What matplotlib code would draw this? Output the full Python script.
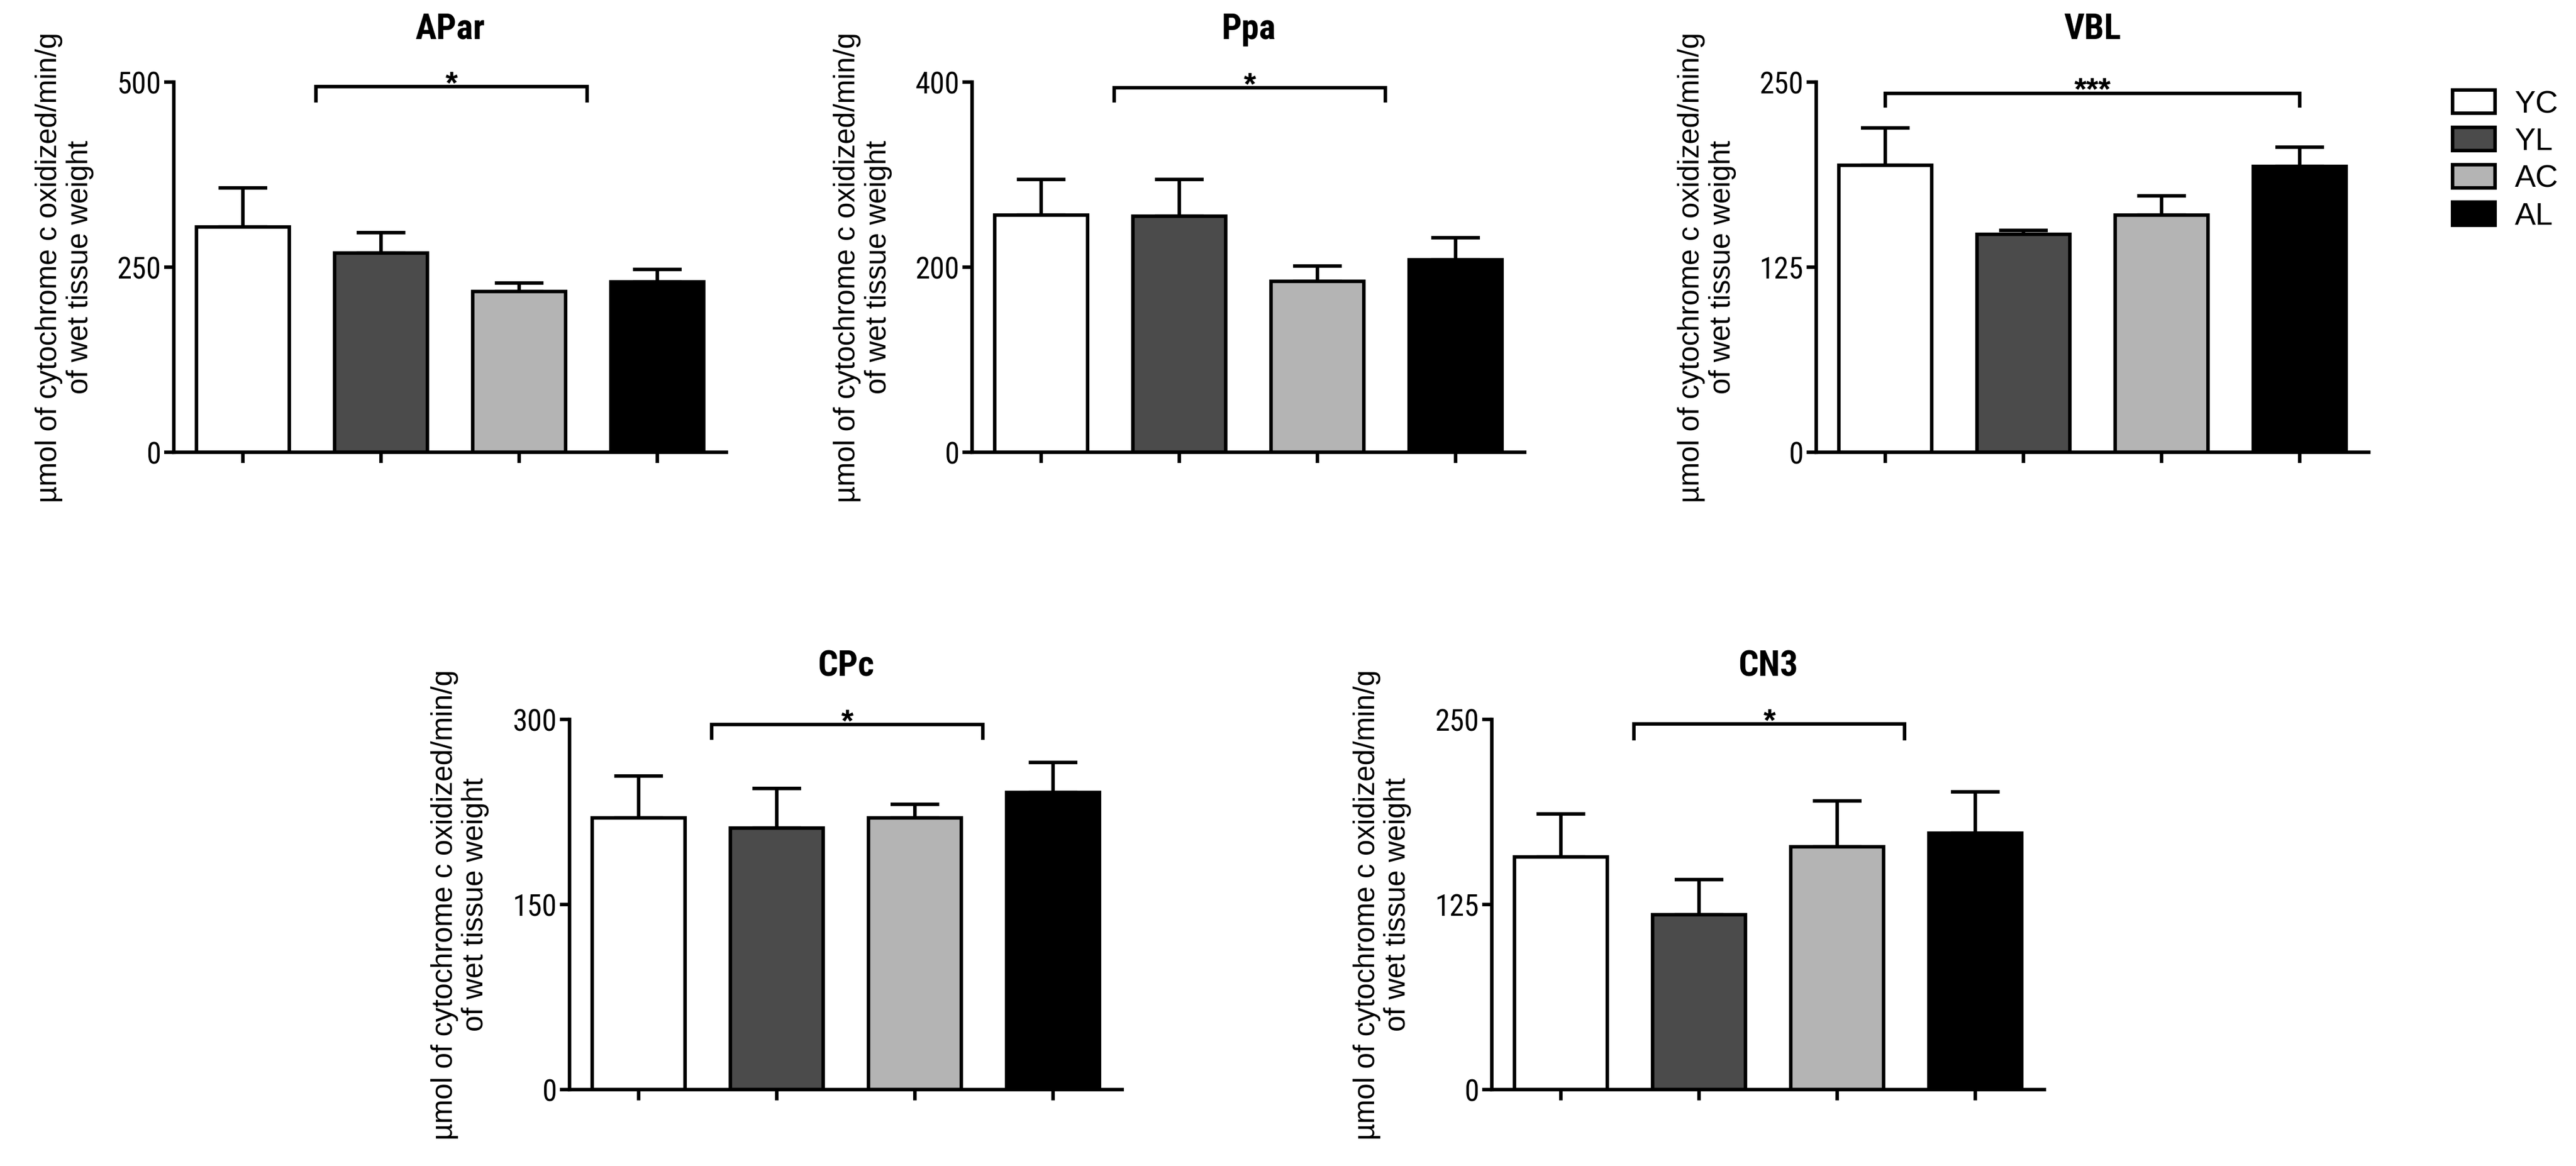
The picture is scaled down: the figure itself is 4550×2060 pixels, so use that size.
import matplotlib
matplotlib.use('Agg')
import matplotlib.pyplot as plt
from matplotlib import font_manager
from matplotlib.patches import Patch

# groups and their fills
groups = ['YC', 'YL', 'AC', 'AL']
colors = ['#ffffff', '#4b4b4b', '#b4b4b4', '#000000']

# mean and sem (upper error only) per region
apar_mean = [304, 269, 217, 230]
apar_sem = [53, 28, 12, 17]
ppa_mean = [256, 255, 185, 208]
ppa_sem = [39, 40, 16, 24]
vbl_mean = [194, 147, 160, 193]
vbl_sem = [25, 3, 13, 13]
cpc_mean = [220, 212, 220, 241]
cpc_sem = [34, 32, 11, 24]
cn3_mean = [157, 118, 164, 173]
cn3_sem = [29, 24, 31, 28]

ylabel = 'µmol of cytochrome c oxidized/min/g\nof wet tissue weight'

# ticks and titles in the original are a condensed sans; use one if installed
installed = {f.name for f in font_manager.fontManager.ttflist}
narrow = [n for n in ['Liberation Sans Narrow', 'Arial Narrow', 'Roboto Condensed',
                      'Open Sans Condensed'] if n in installed]
narrow += ['Liberation Sans', 'DejaVu Sans']
plain = ['Liberation Sans', 'DejaVu Sans']

fig = plt.figure(figsize=(45.5, 20.6), dpi=100)

panels = [
    # title, means, sems, ymax, ticks, bracket (x1, x2, y, tip, stars), axes rect
    ('APar', apar_mean, apar_sem, 500, [0, 250, 500], (0.53, 2.49, 494, 475, '*'),
     [0.0675, 0.6121, 0.2145, 0.3175]),
    ('Ppa', ppa_mean, ppa_sem, 400, [0, 200, 400], (0.53, 2.49, 394, 380, '*'),
     [0.3774, 0.6121, 0.2145, 0.3175]),
    ('VBL', vbl_mean, vbl_sem, 250, [0, 125, 250], (0, 3, 242.5, 234, '***'),
     [0.7051, 0.6121, 0.2145, 0.3175]),
    ('CPc', cpc_mean, cpc_sem, 300, [0, 150, 300], (0.53, 2.49, 296, 285, '*'),
     [0.2211, 0.0655, 0.2145, 0.3175]),
    ('CN3', cn3_mean, cn3_sem, 250, [0, 125, 250], (0.53, 2.49, 247, 237, '*'),
     [0.5791, 0.0655, 0.2145, 0.3175]),
]

lw = 4.5
for title, means, sems, ymax, ticks, br, rect in panels:
    ax = fig.add_axes(rect)
    x = range(len(groups))
    ax.errorbar(x, means, yerr=[[0] * 4, sems], fmt='none', ecolor='black',
                elinewidth=lw, capsize=31, capthick=lw, zorder=1)
    ax.bar(x, means, width=0.67, color=colors, edgecolor='black',
           linewidth=lw, zorder=2)
    ax.set_xlim(-0.5, 3.5)
    ax.set_ylim(0, ymax)
    ax.set_yticks(ticks)
    ax.set_yticklabels([str(t) for t in ticks], family=narrow, fontsize=38)
    ax.set_xticks(list(x))
    ax.set_xticklabels([])
    ax.tick_params(axis='y', length=12, width=lw, pad=4)
    ax.tick_params(axis='x', length=14, width=lw)
    for s in ['top', 'right']:
        ax.spines[s].set_visible(False)
    for s in ['left', 'bottom']:
        ax.spines[s].set_linewidth(lw)
    ax.set_title(title, family=narrow, fontsize=45, fontweight='bold', pad=55)
    ax.set_ylabel(ylabel, family=plain, fontsize=37, linespacing=1.15)
    ax.yaxis.set_label_coords(-0.145, 0.5)

    x1, x2, yb, tip, stars = br
    ax.plot([x1, x1, x2, x2], [tip, yb, yb, tip], color='black', lw=lw,
            clip_on=False, solid_joinstyle='miter')
    ax.annotate(stars, xy=((x1 + x2) / 2, yb), xytext=(0, -8),
                textcoords='offset points', ha='center', va='baseline',
                family=plain, fontsize=40, fontweight='bold',
                annotation_clip=False)

handles = [Patch(facecolor=c, edgecolor='black', linewidth=lw) for c in colors]
fig.legend(handles, groups, loc='upper left', bbox_to_anchor=(0.9521, 0.9228),
           frameon=False, prop={'family': plain, 'size': 40},
           handlelength=1.35, handleheight=0.755, labelspacing=0.25,
           handletextpad=0.63, borderpad=0, borderaxespad=0)

fig.savefig('out.png', dpi=100)
